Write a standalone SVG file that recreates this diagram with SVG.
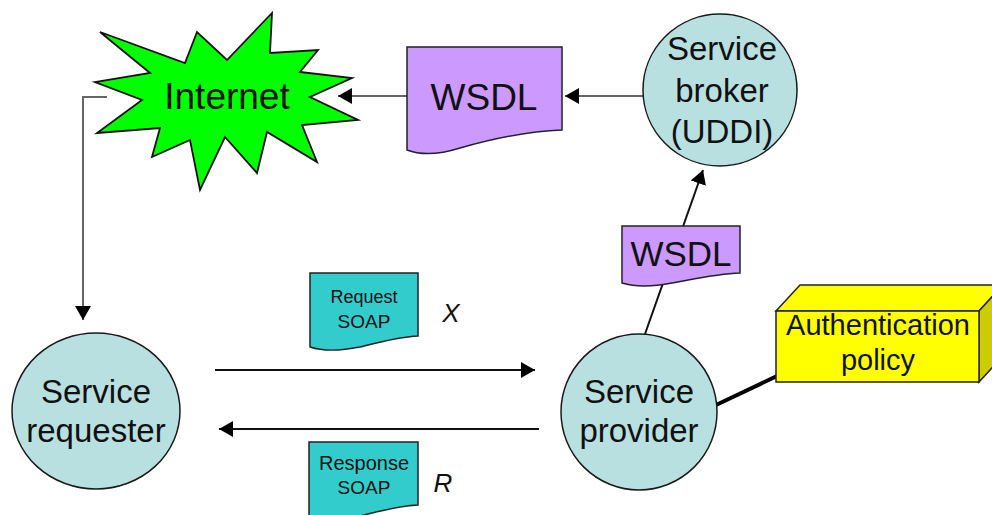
<svg xmlns="http://www.w3.org/2000/svg" width="992" height="515" viewBox="0 0 992 515">
  <style>
    .node { fill: #B9E0E1; stroke: #1a1a1a; stroke-width: 1.5; }
    .lbl { font-family: "Liberation Sans", Arial, sans-serif; fill: #111; text-anchor: middle; }
    .big { font-size: 33px; }
    .doc { stroke: #222; stroke-width: 1.5; }
    .wsdl { fill: #CC99FF; }
    .soap { fill: #33CCCC; }
    .gray { stroke: #666; stroke-width: 2; fill: none; }
    .blk { stroke: #111; stroke-width: 2; fill: none; }
  </style>
  <defs>
    <marker id="ahGray" markerWidth="8" markerHeight="8" refX="7" refY="4" orient="auto" markerUnits="strokeWidth">
      <path d="M0,0 L7,4 L0,8 Z" fill="#000"/>
    </marker>
    <marker id="ahBlk" markerWidth="8" markerHeight="8" refX="7" refY="4" orient="auto" markerUnits="strokeWidth">
      <path d="M0,0 L7,4 L0,8 Z" fill="#000"/>
    </marker>
  </defs>

  <rect width="992" height="515" fill="#fff"/>

  <g id="connectors">
    <!-- broker -> WSDL -> Internet -->
    <line class="gray" x1="643" y1="96" x2="565" y2="96" marker-end="url(#ahGray)"/>
    <line class="gray" x1="407" y1="96" x2="338" y2="96" marker-end="url(#ahGray)"/>
    <!-- Internet -> requester -->
    <polyline class="gray" points="107,97 83,97 83,320" marker-end="url(#ahGray)"/>
    <!-- provider -> broker -->
    <line class="blk" x1="645" y1="334" x2="703" y2="170" marker-end="url(#ahBlk)"/>
    <!-- request / response -->
    <line class="blk" x1="215" y1="370" x2="535" y2="370" marker-end="url(#ahBlk)"/>
    <line class="blk" x1="539" y1="429" x2="219" y2="429" marker-end="url(#ahBlk)"/>
    <!-- provider to policy -->
    <line x1="716" y1="405" x2="777" y2="376" stroke="#000" stroke-width="4"/>
  </g>

  <g id="internet">
    <polygon fill="#00FF00" stroke="#111" stroke-width="1.8" stroke-linejoin="miter"
      points="100,32 150,73 95,82 142,100 97,133 160,128 152,157 190,140 200,190 225,137 257,173 267,132 317,162 302,125 358,120 310,97 352,78 300,72 318,50 270,53 272,13 227,60 197,32 185,63"/>
    <text class="lbl" x="227" y="109" font-size="37">Internet</text>
  </g>

  <g id="wsdl-top">
    <path class="doc wsdl" d="M407,47 H562 V130 C530,131 495,138 460,148 C438,155 420,155 407,150 Z"/>
    <text class="lbl" x="484" y="110" font-size="37">WSDL</text>
  </g>

  <g id="broker">
    <ellipse class="node" cx="720" cy="90" rx="77" ry="76"/>
    <text class="lbl big" x="722" y="60">Service</text>
    <text class="lbl big" x="722" y="102">broker</text>
    <text class="lbl big" x="722" y="143">(UDDI)</text>
  </g>

  <g id="wsdl-provider">
    <path class="doc wsdl" d="M622,226 H740 V273 C715,274 695,279 672,283 C652,287 635,287 622,283 Z"/>
    <text class="lbl" x="681" y="266" font-size="35">WSDL</text>
  </g>

  <g id="request-soap">
    <path class="doc soap" d="M310,273 H418 V336 C398,337 380,342 360,347 C340,351 322,351 310,347 Z"/>
    <text class="lbl" x="364" y="303" font-size="18">Request</text>
    <text class="lbl" x="364" y="328" font-size="19">SOAP</text>
  </g>
  <text class="lbl" x="451" y="322" font-size="26" font-style="italic">X</text>

  <g id="response-soap">
    <path class="doc soap" d="M309,442 H418 V505 C398,506 380,511 360,516 C340,520 322,520 309,516 Z"/>
    <text class="lbl" x="364" y="470" font-size="20">Response</text>
    <text class="lbl" x="364" y="494" font-size="19">SOAP</text>
  </g>
  <text class="lbl" x="443" y="492" font-size="26" font-style="italic">R</text>

  <g id="requester">
    <ellipse class="node" cx="96" cy="411" rx="84" ry="78"/>
    <text class="lbl big" x="96" y="403">Service</text>
    <text class="lbl big" x="96" y="442">requester</text>
  </g>

  <g id="provider">
    <ellipse class="node" cx="639" cy="412" rx="78" ry="78"/>
    <text class="lbl big" x="639" y="403">Service</text>
    <text class="lbl big" x="639" y="442">provider</text>
  </g>

  <g id="auth-policy">
    <polygon points="776,311 800,285 1003,285 979,311" fill="#FFFF00" stroke="#222" stroke-width="1.5"/>
    <polygon points="979,311 1003,285 1003,356 979,382" fill="#CCCC00" stroke="#222" stroke-width="1.5"/>
    <rect x="776" y="311" width="203" height="71" fill="#FFFF00" stroke="#222" stroke-width="1.5"/>
    <text class="lbl" x="878" y="335" font-size="29">Authentication</text>
    <text class="lbl" x="878" y="370" font-size="29">policy</text>
  </g>
</svg>
